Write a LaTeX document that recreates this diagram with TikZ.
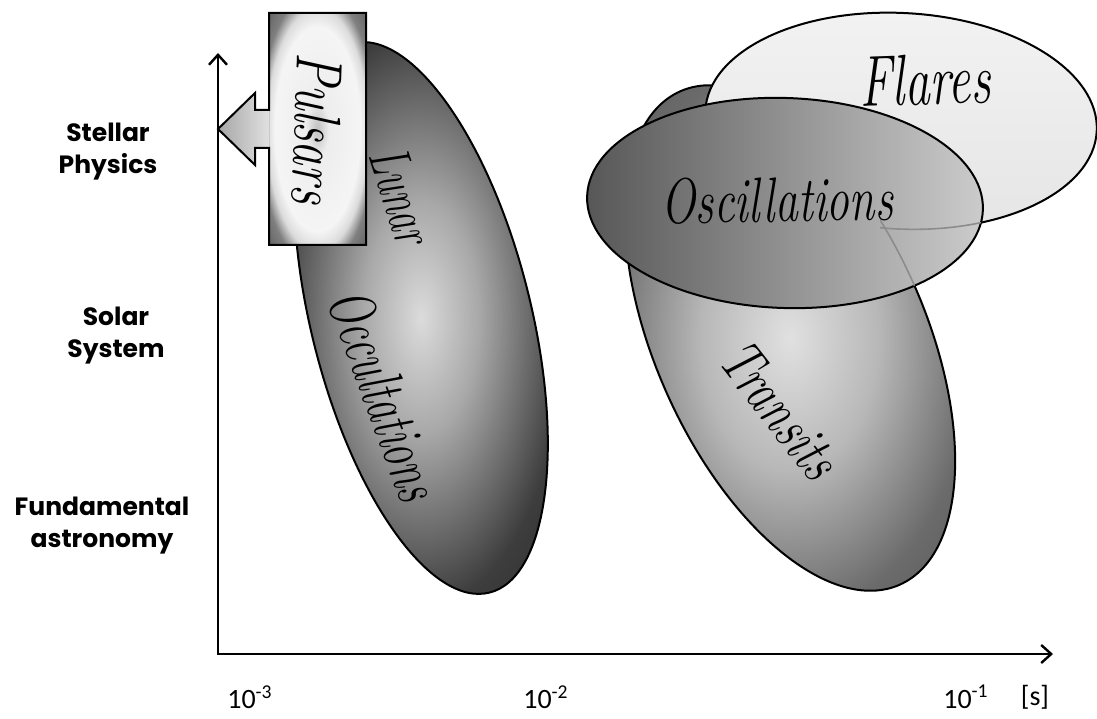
\documentclass[tikz,border=0pt]{standalone}
\usepackage{fontspec}
\newfontfamily\fieldfont{Poppins}
\newfontfamily\tickfont{Carlito}
\usetikzlibrary{arrows.meta, shapes.geometric, positioning, calc}

% shadings for the blobs
\pgfdeclareradialshading{lunarshade}{\pgfpoint{0bp}{0bp}}{%
  color(0bp)=(black!14); color(10bp)=(black!34); color(25bp)=(black!76); color(40bp)=(black!86)}
\pgfdeclareradialshading{transitshade}{\pgfpoint{0bp}{0bp}}{%
  color(0bp)=(black!12); color(12bp)=(black!28); color(25bp)=(black!58); color(40bp)=(black!70)}
\pgfdeclareradialshading{pulsarshade}{\pgfpoint{0bp}{0bp}}{%
  color(0bp)=(black!25); color(6bp)=(black!7); color(22bp)=(black!4); color(26bp)=(black!14);
  color(30bp)=(black!50); color(42bp)=(black!74)}

\begin{document}
\begin{tikzpicture}[
    x=0.5pt, y=0.5pt,
    every node/.style={inner sep=0pt, outer sep=0pt},
    axisline/.style={line width=1.2pt,
            {Straight Barb[length=5pt, width=9pt]}-{Straight Barb[length=5pt, width=9pt]}},
    field/.style={font=\fieldfont\bfseries\fontsize{12.5}{16}\selectfont, align=center},
    ticklabel/.style={font=\tickfont\fontsize{14}{16}\selectfont},
    blob/.style={ellipse, draw, line width=1pt},
    hand/.style={font=\itshape\fontsize{#1}{#1}\selectfont},
    seethrough/.style={draw=black!45, line width=0.8pt},
    ]

    \useasboundingbox (0,0) rectangle (1097,718);

    % --- Axes ---
    \coordinate (origin) at (218,64);
    \coordinate (ytop) at (218,665);
    \coordinate (xend) at (1053,64);
    \draw[axisline] (ytop) -- (origin) -- (xend);

    % --- Fields ---
    \node[field] (stellar) at (108,566) {Stellar\\Physics};
    \node[field] (solar) at (116,382) {Solar\\System};
    \node[field] (fundamental) at (102,192) {Fundamental\\astronomy};

    % --- Time scale ---
    \node[ticklabel] (milli) at (250,21) {10\textsuperscript{-3}};
    \node[ticklabel] (centi) at (546,21) {10\textsuperscript{-2}};
    \node[ticklabel] (deci) at (966,21) {10\textsuperscript{-1}};
    \node[ticklabel] (unit) at (1035,21) {[s]};

    % --- Lunar occultations ---
    \node[blob, shade, shading=lunarshade, minimum width=110pt, minimum height=283pt, rotate=14] (lunar) at (421,400) {};
    \node[hand=29, rotate=-72, xscale=0.65] (lunartext) at (402,522) {Lunar};
    \node[hand=32, rotate=-70, xscale=0.65] (occtext) at (385,323) {Occultations};

    % --- Pulsars ---
    \coordinate (tip) at (ytop |- 0,589);
    \node[shade, shading=pulsarshade, minimum width=48.5pt, minimum height=116pt] (pulsars) at (317.5,589) {};
    \fill[left color=black!35, right color=black!12]
        ([yshift=9.5pt]pulsars.west) -- ++(-14,0) -- ++(0,17) -- (tip) -- ++(37,-36) -- ++(0,17) -- ++(14,0) -- cycle;
    \draw[line width=1pt]
        (pulsars.north east) -- (pulsars.north west) -- ([yshift=9.5pt]pulsars.west) -- ++(-14,0) -- ++(0,17)
        -- (tip) -- ++(37,-36) -- ++(0,17) -- ++(14,0) -- (pulsars.south west) -- (pulsars.south east) -- cycle;
    \node[hand=33, rotate=-92, xscale=0.73] (pulsartext) at (pulsars.center) {Pulsars};

    % --- Transits, Flares, Oscillations ---
    \node[blob, shade, shading=transitshade, minimum width=135pt, minimum height=270pt, rotate=24] (transits) at (790,380) {};
    \node[blob, top color=black!5, middle color=black!22, bottom color=black!10, minimum width=196pt, minimum height=108pt, rotate=-3] (flares) at (901,597) {};
    \node[blob, left color=black!66, right color=black!20, minimum width=198pt, minimum height=105pt, rotate=-2] (osc) at (785,515) {};

    \begin{scope}
        \clip[rotate around={-2:(osc.center)}] (osc.center) ellipse [x radius=198, y radius=105];
        \clip (880,0) rectangle (1097,718);
        \draw[seethrough, rotate around={-3:(flares.center)}] (flares.center) ellipse [x radius=196, y radius=108];
        \draw[seethrough, rotate around={24:(transits.center)}] (transits.center) ellipse [x radius=135, y radius=270];
    \end{scope}

    \node[hand=30, rotate=-52, xscale=0.75] (transtext) at (780,308) {Transits};
    \node[hand=36, rotate=2, xscale=0.7] (flarestext) at (925,638) {Flares};
    \node[hand=32, rotate=1, xscale=0.72] (osctext) at (777,518) {Oscillations};

\end{tikzpicture}
\end{document}
